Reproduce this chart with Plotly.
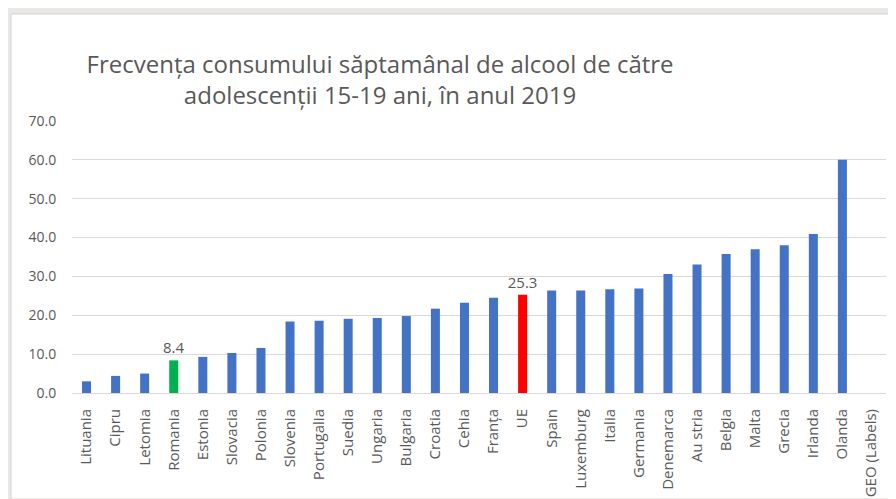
import plotly.graph_objects as go

countries = ["Lituania", "Cipru", "Letomia", "Romania", "Estonia", "Slovacia", "Polonia",
             "Slovenia", "Portugalia", "Suedia", "Ungaria", "Bulgaria", "Croatia", "Cehia",
             "Franța", "UE", "Spain", "Luxemburg", "Italia", "Germania", "Denemarca",
             "Au stria", "Belgia", "Malta", "Grecia", "Irlanda", "Olanda", "GEO (Labels)"]
values = [3.0, 4.4, 5.0, 8.4, 9.3, 10.3, 11.6,
          18.4, 18.6, 19.1, 19.3, 19.8, 21.7,
          23.2, 24.5, 25.3, 26.4, 26.4, 26.7, 26.9,
          30.6, 33.1, 35.8, 37.0, 38.0, 40.9, 60.0, None]
highlight = {"Romania": "#00B050", "UE": "#FF0000"}

BLUE = "#4472C4"
GREY_TXT = "#595959"
FONT = "Open Sans"

colors = [highlight.get(c, BLUE) for c in countries]
labels = [f"{v:.1f}" if c in highlight else "" for c, v in zip(countries, values)]

fig = go.Figure(go.Bar(
    x=countries, y=values,
    marker=dict(color=colors, line=dict(width=0)),
    text=labels, textposition="outside", cliponaxis=False, constraintext="none",
    textfont=dict(size=15, color=GREY_TXT, family=FONT),
))

# page body adds an 8px margin, so the figure is 8px smaller than the window
fig.update_layout(
    width=888, height=491,
    margin=dict(l=64, r=10, t=113, b=106, autoexpand=False),
    paper_bgcolor="#EAE8E6", plot_bgcolor="white",
    font=dict(family=FONT, color=GREY_TXT),
    bargap=0.69,
    showlegend=False,
    title=dict(
        text="Frecvența consumului săptamânal de alcool de către<br>adolescenții 15-19 ani, în anul 2019",
        x=0.419, xanchor="center", y=0.868, yanchor="middle",
        font=dict(size=24, color=GREY_TXT, family=FONT),
    ),
    shapes=[dict(type="rect", xref="paper", yref="paper",
                 x0=-61 / 814, x1=1 + 10 / 814, y0=-106 / 272, y1=1 + 107 / 272,
                 fillcolor="white", line=dict(color="#D6D4D2", width=1), layer="below")],
)

fig.update_yaxes(range=[0, 70], dtick=10, tickformat=".1f", automargin=False,
                 showgrid=True, gridcolor="#D9D9D9", gridwidth=1,
                 zeroline=False, showline=False,
                 ticks="outside", ticklen=12, tickcolor="rgba(0,0,0,0)",
                 tickfont=dict(size=14, color=GREY_TXT))
fig.update_xaxes(tickangle=-90, automargin=False,
                 showline=True, linecolor="#D9D9D9", linewidth=1,
                 ticks="outside", ticklen=9, tickcolor="rgba(0,0,0,0)",
                 tickfont=dict(size=15, color=GREY_TXT))

fig.write_html("out.html")
